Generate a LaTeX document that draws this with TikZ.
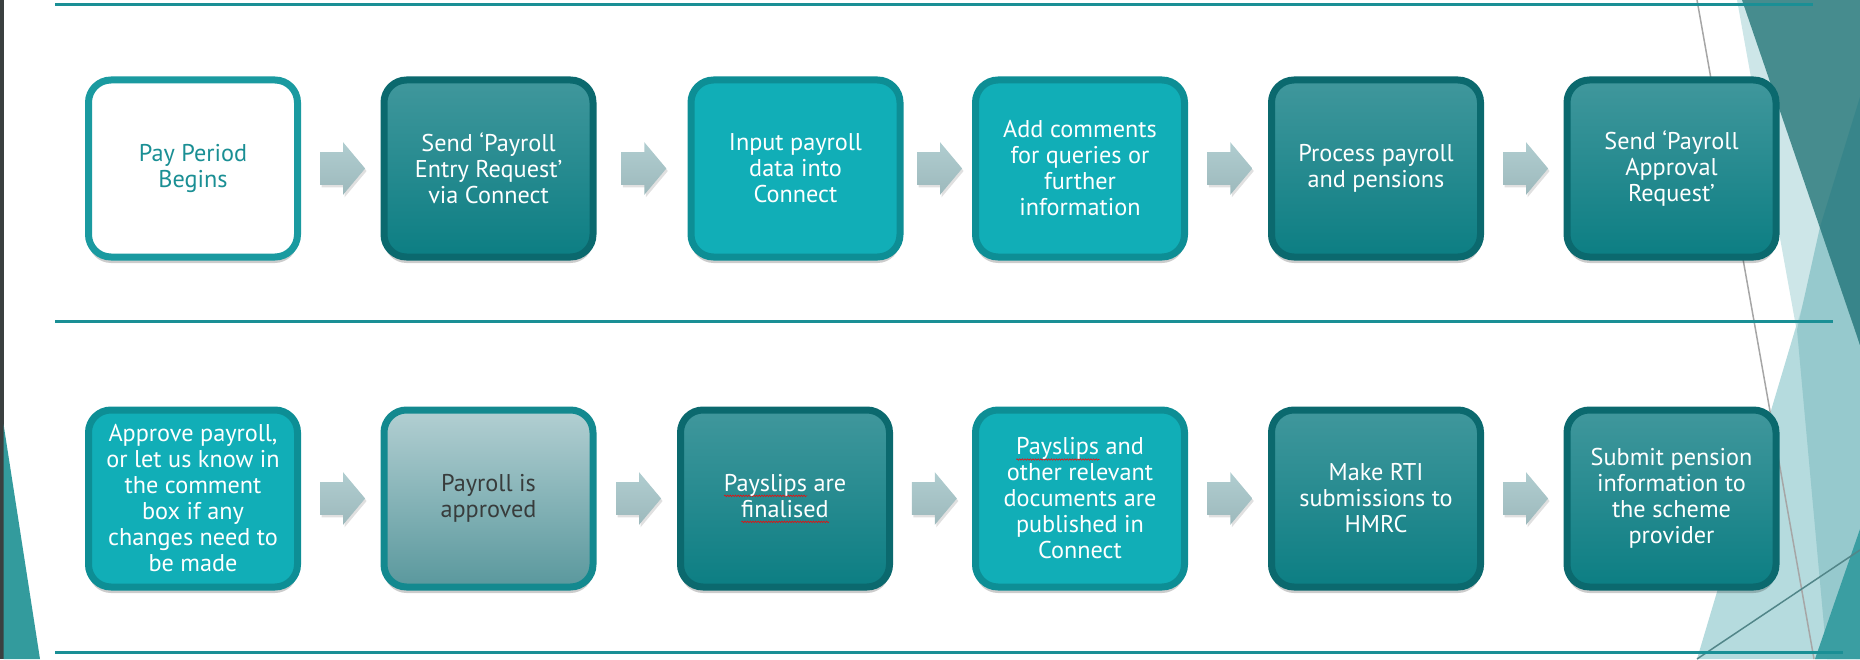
\documentclass[tikz,border=0pt]{standalone}
\usepackage{fontspec}
\setmainfont{PT Sans}
\usepackage{tikz}
\usetikzlibrary{positioning, shapes.arrows, shadows, decorations.pathmorphing}

\definecolor{rule}{HTML}{1A8F95}
\definecolor{darktop}{HTML}{40979C}
\definecolor{darkbot}{HTML}{0C7E83}
\definecolor{darkrim}{HTML}{0B696E}
\definecolor{brightfill}{HTML}{11AEB7}
\definecolor{brightrim}{HTML}{0D8E95}
\definecolor{startrim}{HTML}{1A9AA0}
\definecolor{starttext}{HTML}{1A8F94}
\definecolor{greytop}{HTML}{B2CFD2}
\definecolor{greybot}{HTML}{5A989D}
\definecolor{greyrim}{HTML}{13898F}
\definecolor{greytext}{HTML}{383C3C}
\definecolor{arrowtop}{HTML}{B0CDD0}
\definecolor{arrowbot}{HTML}{9DB9BC}
\definecolor{decolight}{HTML}{CDE6E8}
\definecolor{decopale}{HTML}{B5DBDE}
\definecolor{decomid}{HTML}{96C9CD}
\definecolor{decodark}{HTML}{468C8E}
\definecolor{decodeep}{HTML}{38858A}
\definecolor{decocorner}{HTML}{3A9EA2}
\definecolor{decoleft}{HTML}{339B9D}
\definecolor{edgestrip}{HTML}{3A4040}

% red spell-check squiggle under a word
\newlength{\typowd}
\newcommand{\typo}[1]{\settowidth{\typowd}{#1}%
  \rlap{\tikz[baseline=0pt]\draw[red, line width=0.3pt, sharp corners,
    decorate, decoration={snake, amplitude=0.45pt, segment length=1.5pt}]
    (0,-2.6pt) -- (\typowd,-2.6pt);}#1}

\begin{document}
\begin{tikzpicture}[
    box/.style={rectangle, rounded corners=0.45cm, line width=0.14cm,
                minimum width=4.18cm, minimum height=3.54cm, align=center,
                text=white, font=\fontsize{13.8}{14.8}\selectfont,
                drop shadow={shadow xshift=0cm, shadow yshift=-0.12cm,
                             opacity=0.2, fill=black}},
    dark/.style={box, draw=darkrim, top color=darktop, bottom color=darkbot},
    bright/.style={box, draw=brightrim, fill=brightfill},
    start/.style={box, draw=startrim, fill=white, text=starttext},
    approved/.style={box, draw=greyrim, top color=greytop,
                     bottom color=greybot, text=greytext},
    flow/.style={single arrow, single arrow head extend=0.2cm,
                 single arrow tip angle=100, text height=0.32cm,
                 text depth=0.32cm, minimum height=0.9cm, inner sep=0pt,
                 xshift=-0.1cm, draw=none, top color=arrowtop,
                 bottom color=arrowbot,
                 drop shadow={shadow xshift=0.03cm, shadow yshift=-0.05cm,
                              opacity=0.12, fill=black}},
    divider/.style={rule, line width=0.06cm}
  ]
  \useasboundingbox (0,0) rectangle (37.2,13.18);

  % Background decoration, right
  \fill[decolight] (34.74,13.18) -- (37.2,13.18) -- (37.2,0) -- (37.12,0) -- cycle;
  \fill[decopale] (33.94,0) -- (35.9,6.58) -- (37.2,10.78) -- (37.2,0) -- cycle;
  \fill[decomid] (36.4,8.64) -- (37.2,10.98) -- (37.2,0) -- (36.54,0) -- (35.94,6.58) -- cycle;
  \fill[decodark] (34.84,13.18) -- (37.2,13.18) -- (37.2,6.28) -- cycle;
  \fill[decodeep] (37.2,11.24) -- (36.4,8.64) -- (37.1,6.6) -- (37.2,6.28) -- cycle;
  \fill[decocorner] (37.2,2.6) -- (36.3,0) -- (37.2,0) -- cycle;
  \draw[black!35, line width=0.03cm] (33.94,13.18) -- (36.28,0);
  \draw[rule!45!gray, line width=0.03cm] (33.94,0) -- (37.2,2.18);

  % Background decoration, left
  \fill[edgestrip] (0,0) rectangle (0.07,13.18);
  \fill[decoleft] (0.07,4.7) -- (0.8,0) -- (0.07,0) -- cycle;

  % Dividers
  \draw[divider] (1.1,13.08) -- (36.26,13.08);
  \draw[divider] (1.1,6.76) -- (36.66,6.76);
  \draw[divider] (1.1,0.14) -- (36.86,0.14);

  % First row
  \node[start]  (begin)   at (3.86,9.81)  {Pay Period\\Begins};
  \node[dark]   (entry)   at (9.77,9.81)  {Send ‘Payroll\\Entry Request’\\via Connect};
  \node[bright] (input)   at (15.91,9.81) {Input payroll\\data into\\Connect};
  \node[bright] (comment) at (21.6,9.81)  {Add comments\\for queries or\\further\\information};
  \node[dark]   (process) at (27.52,9.81) {Process payroll\\and pensions};
  \node[dark]   (request) at (33.43,9.81) {Send ‘Payroll\\Approval\\Request’};

  % Second row
  \node[bright]   (approve)  at (3.86,3.21)  {Approve payroll,\\or let us know in\\the comment\\box if any\\changes need to\\be made};
  \node[approved] (approved) at (9.77,3.21)  {Payroll is\\approved};
  \node[dark]     (final)    at (15.70,3.21) {\typo{Payslips} are\\\typo{finalised}};
  \node[bright]   (publish)  at (21.6,3.21)  {\typo{Payslips} and\\other relevant\\documents are\\published in\\Connect};
  \node[dark]     (rti)      at (27.52,3.21) {Make RTI\\submissions to\\HMRC};
  \node[dark]     (pension)  at (33.43,3.21) {Submit pension\\information to\\the scheme\\provider};

  % Step arrows
  \path (begin) -- (entry) node[midway, flow] {};
  \path (entry) -- (input) node[midway, flow] {};
  \path (input) -- (comment) node[midway, flow] {};
  \path (comment) -- (process) node[midway, flow] {};
  \path (process) -- (request) node[midway, flow] {};
  \path (approve) -- (approved) node[midway, flow] {};
  \path (approved) -- (final) node[midway, flow] {};
  \path (final) -- (publish) node[midway, flow] {};
  \path (publish) -- (rti) node[midway, flow] {};
  \path (rti) -- (pension) node[midway, flow] {};
\end{tikzpicture}
\end{document}
